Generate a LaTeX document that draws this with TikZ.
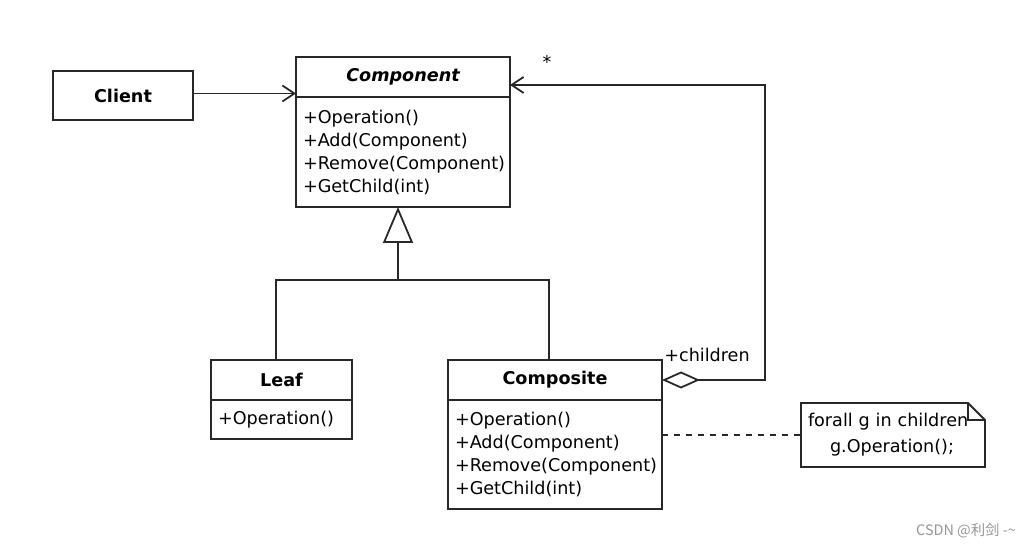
\documentclass[tikz,border=0pt]{standalone}
\usepackage{fontspec}
\setmainfont{DejaVu Sans}
\newfontfamily\cjk{Noto Sans CJK SC}
\usetikzlibrary{arrows.meta,positioning}
\definecolor{umlLine}{RGB}{40,40,40}
\definecolor{markGray}{RGB}{150,150,150}
\tikzset{
  umlhead/.style={draw=umlLine, line width=0.9pt, minimum height=20pt, inner sep=0pt, outer sep=0pt,
    font=\fontsize{8.8}{11.5}\selectfont\bfseries},
  umlbody/.style={draw=umlLine, line width=0.9pt, inner xsep=3.5pt, inner ysep=0pt, outer sep=0pt,
    align=left, font=\fontsize{8.8}{11.5}\selectfont},
  umltext/.style={inner sep=0pt, font=\fontsize{8.8}{11.5}\selectfont},
  assoc/.style={-{Straight Barb[length=6pt,width=8pt]}, line width=0.9pt, draw=umlLine},
  inherit/.style={-{Triangle[open,length=18pt,width=15pt]}, line width=0.9pt, draw=umlLine},
  aggr/.style={{Diamond[open,length=19pt,width=8.5pt]}-{Straight Barb[length=6pt,width=8pt]},
    line width=0.9pt, draw=umlLine},
  plainline/.style={line width=0.9pt, draw=umlLine},
  notelink/.style={line width=0.8pt, draw=umlLine, dash pattern=on 3pt off 3pt},
  noteline/.style={line width=0.9pt, draw=umlLine},
  watermk/.style={inner sep=0pt, text=markGray, font=\cjk\fontsize{7.2}{9}\selectfont}
}
\begin{document}
\begin{tikzpicture}[x=0.5pt,y=-0.5pt]
    \useasboundingbox (0,0) rectangle (1033,550);
    % classes
    \node[umlhead, minimum width=70pt, minimum height=24.5pt] (client) at (123,95.5) {Client};
    \node[umlhead, minimum width=107pt, font=\fontsize{8.8}{11.5}\selectfont\bfseries\itshape] (compHead) at (403,77) {Component};
    \node[umlbody, text width=100pt, minimum height=55pt, below=0pt of compHead] (compBody)
      {+Operation()\\+Add(Component)\\+Remove(Component)\\+GetChild(int)};
    \node[umlhead, minimum width=70.5pt] (leafHead) at (281.5,380) {Leaf};
    \node[umlbody, text width=63.5pt, minimum height=19.5pt, below=0pt of leafHead] (leafBody) {+Operation()};
    \node[umlhead, minimum width=107pt] (compoHead) at (555,380) {Composite};
    \node[umlbody, text width=100pt, minimum height=54.5pt, below=0pt of compoHead] (compoBody)
      {+Operation()\\+Add(Component)\\+Remove(Component)\\+GetChild(int)};
    % note
    \node[umlbody, draw=none, text width=85pt, minimum height=32pt,
      font=\fontsize{8.8}{13}\selectfont] (note) at (893,435)
      {forall g in children\\\hspace*{11pt}g.Operation();};
    \draw[noteline] (note.north west) -- ([xshift=-8.5pt]note.north east) -- ([yshift=-8.5pt]note.north east)
      -- (note.south east) -- (note.south west) -- cycle;
    \draw[noteline] ([xshift=-8.5pt]note.north east) |- ([yshift=-8.5pt]note.north east);
    % connectors
    \draw[assoc] ([yshift=1pt]client.east) -- ([yshift=1pt]client.east -| compHead.west);
    \coordinate (fork) at (398,280);
    \draw[plainline] ([xshift=-2.75pt]leafHead.north) |- (fork) -| ([xshift=-3pt]compoHead.north);
    \draw[inherit] (fork) -- (compBody.south -| fork);
    \coordinate (loopTop) at (765,85);
    \draw[aggr] (compoHead.east) -| (loopTop) -- (loopTop -| compHead.east);
    \node[umltext] (many) at (547,62) {*};
    \node[umltext] (role) at (707,355) {+children};
    \draw[notelink] (compoBody.east |- note.west) -- (note.west);
    \node[watermk] (credit) at (966,531) {CSDN @利剑 -\textasciitilde};
\end{tikzpicture}
\end{document}
